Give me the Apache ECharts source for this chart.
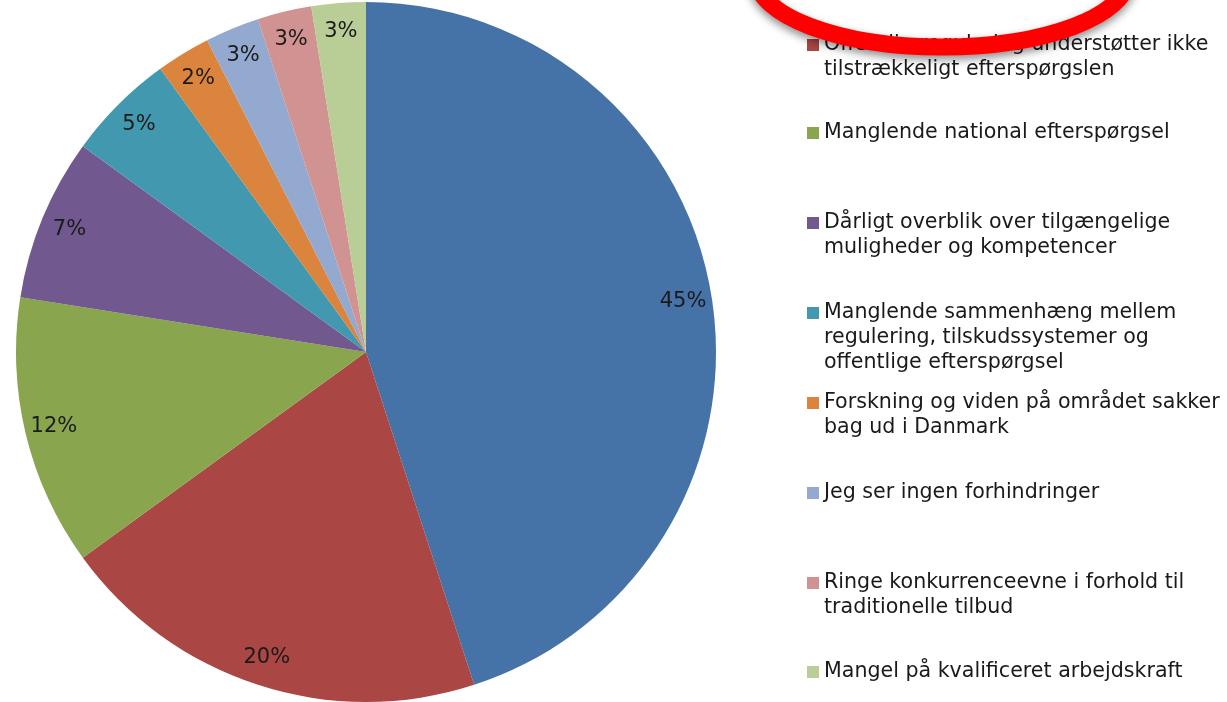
<!DOCTYPE html>
<html>
<head>
    <meta charset="utf-8">
    <title>Forhindringer</title>
    <script src="https://cdn.jsdelivr.net/npm/echarts@6/dist/echarts.min.js"></script>
    <style>
        html, body { margin: 0; padding: 0; background: #fff; }
        #pie { width: 1227px; height: 702px; }
    </style>
</head>
<body>
<div id="pie"></div>
<script type="text/javascript">

    /* data, clockwise from 12 o'clock (answers, n = 40) */
    var names = [
        '',   // first category - its legend entry is above the visible area
        'Offentlig regulering understøtter ikke tilstrækkeligt efterspørgslen',
        'Manglende national efterspørgsel',
        'Dårligt overblik over tilgængelige muligheder og kompetencer',
        'Manglende sammenhæng mellem regulering, tilskudssystemer og offentlige efterspørgsel',
        'Forskning og viden på området sakker bag ud i Danmark',
        'Jeg ser ingen forhindringer',
        'Ringe konkurrenceevne i forhold til traditionelle tilbud',
        'Mangel på kvalificeret arbejdskraft'
    ];
    var values = [18, 8, 5, 3, 2, 1, 1, 1, 1];
    // percentages as printed on the slices
    var pctLabels = ['45%', '20%', '12%', '7%', '5%', '2%', '3%', '3%', '3%'];
    var colors = ['#4572A7', '#AA4643', '#89A54E', '#71588F', '#4198AF',
                  '#DB843D', '#93A9CF', '#D19392', '#B9CD96'];

    /* legend text as it wraps in the picture */
    var legendLines = [
        null,
        ['Offentlig regulering understøtter ikke', 'tilstrækkeligt efterspørgslen'],
        ['Manglende national efterspørgsel'],
        ['Dårligt overblik over tilgængelige', 'muligheder og kompetencer'],
        ['Manglende sammenhæng mellem', 'regulering, tilskudssystemer og', 'offentlige efterspørgsel'],
        ['Forskning og viden på området sakker', 'bag ud i Danmark'],
        ['Jeg ser ingen forhindringer'],
        ['Ringe konkurrenceevne i forhold til', 'traditionelle tilbud'],
        ['Mangel på kvalificeret arbejdskraft']
    ];

    // layout: y of the first text line of each legend entry
    var legendFirstLine = [null, 45, 133, 223, 313, 403, 493, 583, 672];
    var lineH = 25;

    var pieData = names.map(function (n, i) {
        return {name: n, value: values[i], itemStyle: {color: colors[i]}};
    });

    var legends = [];
    for (var i = 1; i < names.length; i++) {
        (function (idx) {
            var n = legendLines[idx].length;
            legends.push({
                left: 807,
                top: legendFirstLine[idx] - (2 * n - 1) * lineH / 2,
                padding: 0,
                orient: 'vertical',
                itemWidth: 12,
                itemHeight: 12,
                icon: 'rect',
                selectedMode: false,
                data: [names[idx]],
                formatter: function () {
                    // blank lines on top keep the square level with the first line
                    var pad = [];
                    for (var k = 0; k < n - 1; k++) pad.push('');
                    return pad.concat(legendLines[idx]).join('\n');
                },
                textStyle: {
                    fontFamily: 'DejaVu Sans',
                    fontSize: 20.6,
                    lineHeight: lineH,
                    color: '#1a1a1a'
                }
            });
        })(i);
    }

    var myPie = echarts.init(document.getElementById('pie'));
    myPie.setOption({
        backgroundColor: '#fff',
        animation: false,
        legend: legends,
        series: [
            {
                name: 'pie',
                type: 'pie',
                center: [366, 352],
                radius: [0, 350],
                startAngle: 90,
                clockwise: true,
                silent: true,
                label: {show: false},
                labelLine: {show: false},
                itemStyle: {borderWidth: 0},
                data: pieData
            },
            {
                // invisible ring, only carries the percent labels near the rim
                name: 'labels',
                type: 'pie',
                center: [366, 352],
                radius: [286, 350],
                startAngle: 90,
                clockwise: true,
                silent: true,
                legendHoverLink: false,
                itemStyle: {color: 'rgba(0,0,0,0)', borderWidth: 0},
                labelLine: {show: false},
                label: {
                    show: true,
                    position: 'inside',
                    fontFamily: 'DejaVu Sans',
                    fontSize: 21,
                    color: '#1a1a1a',
                    formatter: function (p) {
                        return pctLabels[p.dataIndex];
                    }
                },
                data: values.map(function (v, i) { return {name: 'l' + i, value: v}; })
            }
        ],
        // red marker ring drawn over the top of the legend
        graphic: [{
            type: 'ellipse',
            z: 100,
            shape: {cx: 942, cy: -23, rx: 186, ry: 70},
            style: {
                fill: 'none',
                stroke: '#ff0000',
                lineWidth: 17,
                shadowBlur: 8,
                shadowOffsetY: 4,
                shadowColor: 'rgba(0,0,0,0.45)'
            }
        }]
    });

</script>
</body>
</html>
